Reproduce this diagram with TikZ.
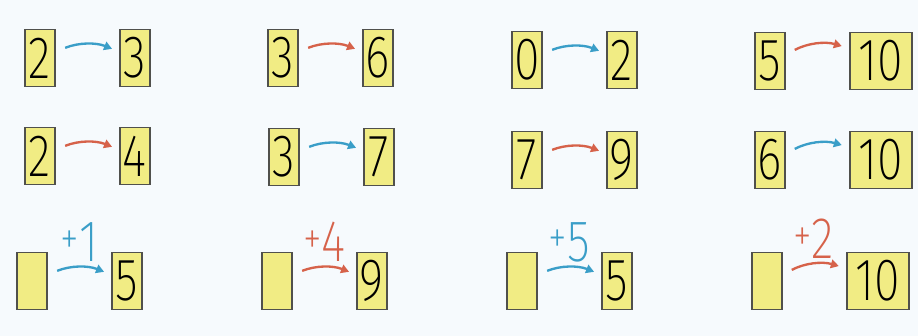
\documentclass[tikz,border=0pt]{standalone}
\usepackage{fontspec}
\usepackage{graphicx}
\usetikzlibrary{arrows.meta,positioning}
\newfontfamily\numfont{Fira Sans ExtraLight}
\definecolor{boxyellow}{RGB}{241,236,132}
\definecolor{boxedge}{RGB}{80,80,76}
\definecolor{hopblue}{RGB}{58,158,200}
\definecolor{hopred}{RGB}{214,98,74}
\definecolor{pagebg}{RGB}{246,250,253}
\newcommand{\digits}[1]{\scalebox{0.78}[1]{\fontsize{51}{51}\selectfont\numfont #1}}
\newcommand{\hop}[1]{\scalebox{0.8}[1]{\fontsize{40}{40}\selectfont\numfont\raisebox{2.2mm}{+}}\scalebox{0.8}[1]{\fontsize{50}{50}\selectfont\numfont #1}}
\tikzset{
    numbox/.style={draw=boxedge, fill=boxyellow, line width=1.5pt, inner sep=0pt, minimum width=9mm, minimum height=17.1mm},
    widebox/.style={numbox, minimum width=18.6mm},
    hoparrow/.style={-{Triangle[length=2.4mm, width=2.6mm]}, line width=2pt, shorten <=3mm, shorten >=2.2mm},
    hoplabel/.style={inner sep=0pt, above=1.4mm}
}
\begin{document}
\begin{tikzpicture}[x=0.3mm, y=-0.3mm, node distance=18.9mm]
    \fill[pagebg] (0,0) rectangle (918,336);
    % first row
    \node[numbox] (a1) at (40,58) {\digits{2}};
    \node[numbox, right=of a1] (b1) {\digits{3}};
    \node[numbox] (c1) at (283,58) {\digits{3}};
    \node[numbox, right=of c1] (d1) {\digits{6}};
    \node[numbox] (e1) at (527,60) {\digits{0}};
    \node[numbox, right=of e1] (f1) {\digits{2}};
    \node[numbox] (g1) at (770,61) {\digits{5}};
    \node[widebox, right=of g1] (h1) {\digits{10}};
    \draw[hoparrow, hopblue] (a1) to[bend left=22] (b1);
    \draw[hoparrow, hopred] (c1) to[bend left=22] (d1);
    \draw[hoparrow, hopblue] (e1) to[bend left=22] (f1);
    \draw[hoparrow, hopred] (g1) to[bend left=22] (h1);
    % second row
    \node[numbox] (a2) at (40,156) {\digits{2}};
    \node[numbox, right=of a2] (b2) {\digits{4}};
    \node[numbox] (c2) at (284,157) {\digits{3}};
    \node[numbox, right=of c2] (d2) {\digits{7}};
    \node[numbox] (e2) at (527,160) {\digits{7}};
    \node[numbox, right=of e2] (f2) {\digits{9}};
    \node[numbox] (g2) at (770,160) {\digits{6}};
    \node[widebox, right=of g2] (h2) {\digits{10}};
    \draw[hoparrow, hopred] (a2) to[bend left=22] (b2);
    \draw[hoparrow, hopblue] (c2) to[bend left=22] (d2);
    \draw[hoparrow, hopred] (e2) to[bend left=22] (f2);
    \draw[hoparrow, hopblue] (g2) to[bend left=22] (h2);
    % third row, left boxes empty
    \node[numbox] (a3) at (32,281) {};
    \node[numbox, right=of a3] (b3) {\digits{5}};
    \node[numbox] (c3) at (277,281) {};
    \node[numbox, right=of c3] (d3) {\digits{9}};
    \node[numbox] (e3) at (522,281) {};
    \node[numbox, right=of e3] (f3) {\digits{5}};
    \node[numbox] (g3) at (767,281) {};
    \node[widebox, right=of g3] (h3) {\digits{10}};
    \draw[hoparrow, hopblue] (a3) to[bend left=22] node[hoplabel, text=hopblue] {\hop{1}} (b3);
    \draw[hoparrow, hopred] (c3) to[bend left=22] node[hoplabel, text=hopred] {\hop{4}} (d3);
    \draw[hoparrow, hopblue] (e3) to[bend left=22] node[hoplabel, text=hopblue] {\hop{5}} (f3);
    \draw[hoparrow, hopred] (g3) to[bend left=22] node[hoplabel, text=hopred] {\hop{2}} (h3);
\end{tikzpicture}
\end{document}
